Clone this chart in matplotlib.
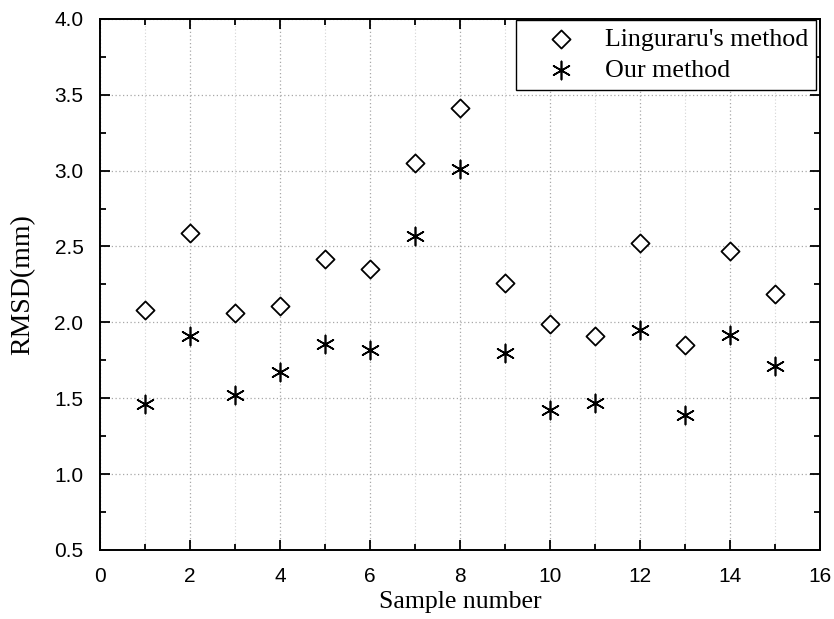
import numpy as np
import matplotlib.pyplot as plt
from matplotlib.ticker import MultipleLocator

samples = list(range(1, 16))
linguraru = [2.08, 2.59, 2.06, 2.11, 2.42, 2.35, 3.05, 3.41, 2.26, 1.99, 1.91, 2.52, 1.85, 2.47, 2.19]
ours = [1.46, 1.91, 1.52, 1.67, 1.86, 1.82, 2.57, 3.01, 1.80, 1.42, 1.47, 1.95, 1.39, 1.92, 1.71]

fig = plt.figure(figsize=(8.34, 6.19), dpi=100)
ax = fig.add_axes([0.12, 0.1115, 0.863, 0.858])

ax.scatter(samples, linguraru, marker="D", s=85, facecolors="white", edgecolors="black",
           linewidths=1.3, label="Linguraru's method", zorder=3)
ax.scatter(samples, ours, marker=(6, 2, 0), s=170, color="black", linewidths=1.2,
           label="Our method", zorder=3)

ax.set_xlim(0, 16)
ax.set_ylim(0.5, 4.0)
ax.xaxis.set_major_locator(MultipleLocator(2))
ax.xaxis.set_minor_locator(MultipleLocator(1))
ax.yaxis.set_major_locator(MultipleLocator(0.5))
ax.yaxis.set_minor_locator(MultipleLocator(0.25))
ax.yaxis.set_major_formatter(plt.FormatStrFormatter("%.1f"))

# dotted grid: major in both directions, minor only along x
ax.grid(True, which="major", linestyle=(0, (1, 2)), color="#a8a8a8", linewidth=0.9)
ax.grid(True, which="minor", axis="x", linestyle=(0, (1, 2)), color="#d4d4d4", linewidth=0.8)
ax.grid(False, which="minor", axis="y")

ax.tick_params(which="both", direction="in", top=True, right=True, width=1.3)
ax.tick_params(which="major", length=7, labelsize=15, pad=12)
ax.tick_params(which="minor", length=4)
for lab in ax.get_xticklabels() + ax.get_yticklabels():
    lab.set_family("Liberation Sans")
for sp in ax.spines.values():
    sp.set_linewidth(1.4)

ax.set_xlabel("Sample number", fontsize=18.5, family="Liberation Serif", labelpad=4)
ax.set_ylabel("RMSD(mm)", fontsize=20, family="Liberation Serif", labelpad=14)

leg = ax.legend(loc="upper right", bbox_to_anchor=(0.9944, 0.998),
                prop={"family": "Liberation Serif", "size": 18.7},
                fancybox=False, edgecolor="black", framealpha=1,
                handlelength=2.8, handletextpad=0.3, borderpad=0.3,
                labelspacing=0.3, borderaxespad=0)
leg.get_frame().set_linewidth(1.0)

fig.savefig("out.png", dpi=100)
